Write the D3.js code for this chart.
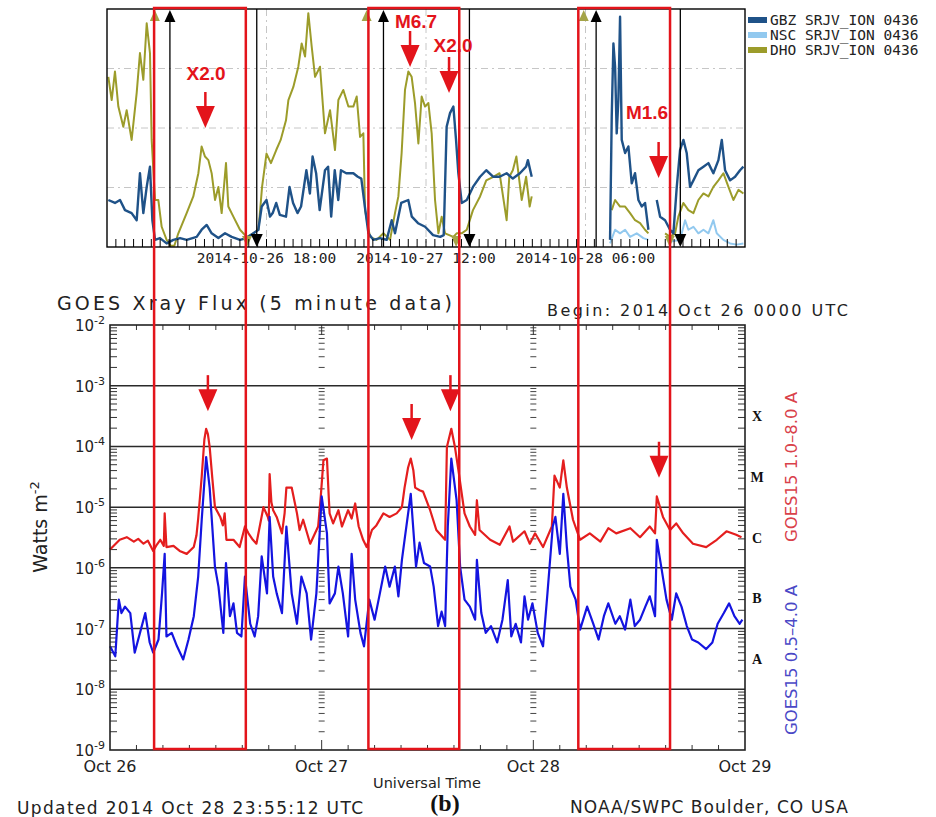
<!DOCTYPE html>
<html>
<head>
<meta charset="utf-8">
<script src="https://cdn.jsdelivr.net/npm/d3@7"></script>
<style>
	body { margin: 0; background: #fff; }
	svg { display: block; }
</style>
</head>
<body>
<div id="vis-container"></div>
<script>

// GOES 15 xray flux, [hours since 2014-10-26 00:00 UTC, W m^-2]
var goesLong = [[0,2.0e-6],[1.1,2.9e-6],[1.9,3.2e-6],[2.7,2.7e-6],[3.2,3.0e-6],[3.8,2.5e-6],[4.3,2.8e-6],[4.9,1.9e-6],[5.3,2.4e-6],[5.7,2.9e-6],[6.1,2.3e-6],[6.2,7.9e-6],[6.4,2.2e-6],[7.2,2.3e-6],[7.9,1.9e-6],[8.7,1.7e-6],[9.5,2.2e-6],[9.8,3.4e-6],[10.0,6.5e-6],[10.4,3.2e-5],[10.7,1.3e-4],[10.9,1.95e-4],[11.1,1.6e-4],[11.3,9.8e-5],[11.6,3.0e-5],[11.9,1.0e-5],[12.5,6.9e-6],[12.8,5.0e-6],[13.0,7.9e-6],[13.2,2.9e-6],[14.0,2.9e-6],[14.7,2.2e-6],[15.3,4.8e-6],[15.7,3.7e-6],[16.2,2.9e-6],[16.6,2.5e-6],[17.4,1.0e-5],[17.9,6.9e-6],[18.0,6.0e-6],[18.1,3.5e-5],[18.3,1.2e-5],[18.5,8.9e-6],[18.9,6.9e-6],[19.5,3.7e-6],[19.8,8.0e-6],[20.0,2.1e-5],[20.6,2.1e-5],[21.2,7.9e-6],[21.5,4.2e-6],[21.9,6.2e-6],[22.7,2.5e-6],[23.6,4.8e-6],[23.9,1.5e-5],[24.2,5.9e-5],[24.6,6.3e-5],[24.8,1.5e-5],[24.9,7.9e-6],[25.3,5.4e-6],[25.9,8.9e-6],[26.3,4.8e-6],[27.0,8.9e-6],[27.4,6.5e-6],[27.8,1.15e-5],[28.2,4.8e-6],[28.7,2.9e-6],[29.1,2.2e-6],[29.7,4.2e-6],[30.2,5.0e-6],[31.0,7.9e-6],[31.7,6.9e-6],[32.5,7.9e-6],[33.1,1.0e-5],[33.4,2.1e-5],[33.8,4.5e-5],[34.1,6.3e-5],[34.4,4.0e-5],[34.6,2.1e-5],[35.1,1.9e-5],[35.5,1.8e-5],[36.3,8.9e-6],[37.0,4.2e-6],[38.0,2.9e-6],[38.2,9.8e-5],[38.7,1.95e-4],[39.1,1.0e-4],[39.5,4.1e-5],[40.2,7.9e-6],[40.8,4.8e-6],[41.4,3.5e-6],[41.6,1.3e-5],[41.9,4.2e-6],[43.1,2.9e-6],[44.2,2.4e-6],[45.3,4.8e-6],[45.7,2.7e-6],[47.0,4.0e-6],[47.6,2.5e-6],[48.2,3.7e-6],[49.1,2.2e-6],[50.1,4.8e-6],[50.4,3.3e-5],[51.0,2.1e-5],[51.4,5.9e-5],[51.8,2.1e-5],[52.5,6.2e-6],[53.3,2.9e-6],[54.4,3.7e-6],[55.6,2.7e-6],[56.5,4.5e-6],[57.4,3.7e-6],[59.0,4.5e-6],[60.1,3.2e-6],[61.2,4.8e-6],[61.8,3.7e-6],[62.0,1.5e-5],[62.7,6.9e-6],[63.5,4.2e-6],[64.2,5.4e-6],[65.0,3.7e-6],[66.1,2.5e-6],[67.6,2.2e-6],[68.8,2.9e-6],[69.9,4.0e-6],[71.0,3.5e-6],[71.6,3.2e-6]];

var goesShort = [[0,5.1e-8],[0.6,3.5e-8],[1.0,3.0e-7],[1.3,1.8e-7],[1.7,2.3e-7],[2.3,1.8e-7],[2.8,4.0e-8],[3.4,8.5e-8],[4.0,1.8e-7],[4.5,5.9e-8],[4.9,4.0e-8],[5.5,6.6e-8],[5.9,3.8e-7],[6.2,1.7e-6],[6.4,7.4e-8],[7.0,8.5e-8],[7.6,5.1e-8],[8.3,3.1e-8],[8.9,6.6e-8],[9.5,1.6e-7],[10.0,7.2e-7],[10.4,6.2e-6],[10.9,6.7e-5],[11.3,2.1e-5],[11.9,1.05e-6],[12.3,4.9e-7],[12.85,8.5e-8],[13.15,1.2e-6],[13.6,1.6e-7],[14.0,2.6e-7],[14.4,8.5e-8],[14.9,7.4e-8],[15.3,7.2e-7],[15.9,1.2e-7],[16.4,7.4e-8],[16.8,1.6e-7],[17.2,1.55e-6],[17.8,3.8e-7],[18.1,6.9e-6],[18.5,7.2e-7],[18.9,3.8e-7],[19.5,1.8e-7],[20.0,4.8e-6],[20.6,3.8e-7],[21.2,1.2e-7],[21.7,7.2e-7],[22.3,3.8e-7],[22.8,6.6e-8],[23.4,3.8e-7],[24.0,1.5e-5],[24.6,3.7e-6],[24.9,2.6e-7],[25.5,3.8e-7],[25.9,1.05e-6],[26.4,3.8e-7],[27.0,7.4e-8],[27.4,1.7e-6],[27.8,3.0e-7],[28.4,8.5e-8],[28.8,5.1e-8],[29.4,3.0e-7],[30.0,1.4e-7],[30.6,3.8e-7],[31.2,1.05e-6],[31.7,4.9e-7],[32.3,1.05e-6],[32.7,3.4e-7],[33.1,1.35e-6],[33.4,2.9e-6],[34.1,1.65e-5],[34.7,1.05e-6],[35.1,2.6e-6],[35.6,1.2e-6],[36.3,1.05e-6],[36.7,4.9e-7],[37.2,1.1e-7],[37.6,1.9e-7],[38.0,1.1e-7],[38.3,4.8e-6],[38.7,6.3e-5],[39.3,1.3e-5],[39.7,1.05e-6],[40.2,3.0e-7],[40.8,2.3e-7],[41.4,1.4e-7],[41.6,1.35e-6],[42.1,1.8e-7],[42.6,8.5e-8],[43.2,1.1e-7],[43.9,5.9e-8],[44.5,1.4e-7],[45.1,6.3e-7],[45.5,7.4e-8],[46.0,1.2e-7],[46.6,5.9e-8],[47.0,3.4e-7],[47.4,1.4e-7],[47.9,2.6e-7],[48.5,8.5e-8],[49.1,5.1e-8],[49.6,3.8e-7],[50.2,4.8e-6],[50.5,6.9e-6],[51.0,1.7e-6],[51.4,1.65e-5],[51.8,2.2e-6],[52.2,4.9e-7],[52.8,3.0e-7],[53.3,9.6e-8],[54.1,2.3e-7],[54.8,1.2e-7],[55.4,6.6e-8],[56.0,1.6e-7],[56.5,2.6e-7],[57.3,1.2e-7],[57.8,1.6e-7],[58.4,9.6e-8],[59.0,3.0e-7],[59.5,1.1e-7],[60.1,1.4e-7],[60.7,2.3e-7],[61.2,3.4e-7],[61.8,1.6e-7],[62.0,2.9e-6],[62.5,1.05e-6],[63.1,3.0e-7],[63.7,1.4e-7],[64.2,3.8e-7],[64.8,2.3e-7],[65.4,1.1e-7],[66.0,6.6e-8],[66.7,5.9e-8],[67.6,4.6e-8],[68.3,5.9e-8],[68.9,1.2e-7],[69.6,1.8e-7],[70.2,2.6e-7],[70.8,1.6e-7],[71.4,1.2e-7],[71.7,1.4e-7]];

// VLF SRJV_ION 0436 amplitude (arbitrary units 0..4), null = no data
var gbz = [[0.15,0.79],[0.9,0.74],[1.47,0.79],[2.03,0.62],[2.78,0.57],[3.35,0.45],[3.72,1.24],[4.1,0.57],[4.48,1.01],[4.85,1.35],[5.12,0.45],[5.42,0.12],[5.98,0.15],[6.73,0.06],[7.49,0.12],[8.24,0.15],[8.99,0.12],[10.12,0.17],[10.68,0.29],[11.25,0.37],[11.81,0.23],[12.57,0.15],[13.32,0.23],[14.07,0.17],[15.01,0.12],[15.76,0.15],[16.52,0.23],[17.08,0.29],[17.46,0.68],[18.0,0.79],[18.4,0.51],[18.7,0.57],[19.1,0.74],[19.5,0.54],[20.2,0.51],[20.6,1.01],[21.0,0.74],[21.5,0.57],[21.9,0.68],[22.5,1.29],[22.9,0.9],[23.2,1.52],[23.6,1.24],[24.0,0.62],[24.6,1.29],[24.95,1.35],[25.3,0.51],[25.7,1.29],[26.1,0.79],[26.4,1.29],[27.0,1.24],[27.8,1.24],[28.3,1.18],[28.7,1.15],[29.1,0.68],[29.5,0.23],[30.06,0.12],[30.81,0.15],[31.56,0.12],[32.13,0.45],[32.5,0.23],[33.2,0.74],[34.0,0.79],[34.4,0.51],[35.1,0.4],[35.9,0.34],[36.8,0.2],[37.6,0.17],[38.0,0.2],[38.33,2.02],[38.71,2.25],[39.09,2.36],[39.39,1.8],[39.65,1.24],[40.03,0.74],[40.6,0.79],[41.3,1.01],[42.1,1.18],[42.8,1.29],[43.6,1.18],[44.3,1.18],[45.1,1.24],[45.8,1.15],[46.6,1.24],[47.3,1.35],[47.5,1.46],[47.93,1.18],[48.0,null],[56.77,0.12],[56.96,2.19],[57.15,3.42],[57.34,3.03],[57.52,1.91],[57.71,2.47],[57.9,3.87],[58.09,1.8],[58.47,1.58],[58.84,1.69],[59.22,1.07],[59.59,1.24],[59.97,0.79],[60.35,0.68],[60.72,0.74],[61.1,0.29],[61.5,null],[62.04,0.79],[62.42,0.51],[62.98,0.45],[63.54,0.29],[63.92,0.23],[64.3,1.01],[64.67,1.63],[65.05,1.8],[65.42,1.58],[65.8,1.01],[66.18,1.12],[66.74,1.29],[67.31,1.35],[67.87,1.41],[68.43,1.24],[69.0,1.46],[69.38,1.8],[69.75,1.29],[70.32,1.12],[70.88,1.18],[71.44,1.29],[71.82,1.35]];

var nsc = [[56.77,0.06],[57.34,0.29],[57.9,0.23],[58.47,0.29],[59.03,0.17],[59.78,0.23],[60.53,0.15],[61.1,0.12],[62.0,null],[63.54,0.09],[64.67,0.12],[65.24,0.45],[65.61,0.29],[66.18,0.34],[66.74,0.23],[67.31,0.29],[67.87,0.23],[68.43,0.45],[68.81,0.23],[69.56,0.12],[70.32,0.06],[71.07,0.04],[71.82,0.06]];

var dho = [[0.15,2.86],[0.53,2.47],[0.9,2.95],[1.28,2.36],[1.84,2.02],[2.22,2.3],[2.78,1.8],[3.35,2.59],[3.72,3.26],[4.1,2.81],[4.48,3.76],[4.85,3.26],[5.04,1.8],[5.42,0.79],[5.79,0.79],[6.17,0.34],[6.73,0.12],[7.2,0.02],[7.6,0.02],[8.05,0.23],[8.99,0.57],[9.74,0.85],[10.31,1.24],[10.68,1.69],[11.06,1.52],[11.44,1.46],[11.81,1.24],[12.19,0.79],[12.57,1.01],[12.94,0.57],[13.43,1.41],[13.69,0.68],[14.26,0.51],[15.01,0.29],[15.76,0.17],[16.52,0.23],[17.1,0.29],[17.5,1.01],[18.0,1.57],[18.5,1.41],[19.1,1.63],[19.6,1.8],[20.2,2.13],[20.47,2.47],[21.03,2.69],[21.59,3.03],[21.97,3.42],[22.35,3.2],[22.72,3.93],[23.1,3.37],[23.48,2.86],[24.04,3.03],[24.6,1.91],[25.17,2.3],[25.73,1.63],[26.11,2.47],[26.67,2.64],[27.24,2.36],[27.8,2.36],[28.18,2.53],[28.56,1.85],[28.93,1.91],[29.12,0.62],[29.68,0.17],[30.43,0.12],[31.19,0.23],[31.94,0.12],[32.5,0.57],[32.88,0.85],[33.25,1.58],[33.63,2.64],[34.01,2.95],[34.38,2.86],[34.76,2.42],[35.14,1.74],[35.51,2.53],[35.89,2.36],[36.27,2.42],[36.64,1.91],[37.02,0.79],[37.4,0.23],[37.77,0.51],[38.15,0.23],[39.09,0.17],[39.46,0.23],[40.03,0.23],[40.6,0.29],[41.3,0.62],[42.1,0.85],[42.8,1.12],[43.6,1.18],[44.3,1.24],[45.1,0.45],[45.4,1.18],[45.8,1.29],[46.2,1.52],[46.8,0.79],[47.3,1.18],[47.7,0.68],[47.93,0.85],[48.0,null],[56.96,0.62],[57.34,0.79],[57.9,0.68],[58.47,0.68],[59.03,0.57],[59.59,0.45],[60.16,0.4],[60.72,0.29],[61.1,0.23],[61.5,null],[62.98,0.23],[63.54,0.17],[64.11,0.23],[64.48,0.51],[65.05,0.74],[65.61,0.62],[66.18,0.57],[66.74,0.79],[67.31,0.9],[67.87,0.85],[68.43,1.01],[69.0,1.12],[69.56,1.24],[70.13,1.01],[70.69,0.79],[71.26,0.96],[71.82,0.9]];

var stationNames = ["GBZ SRJV_ION 0436", "NSC SRJV_ION 0436", "DHO SRJV_ION 0436"];

// terminator markers (hours)
var blackUp = [7.1, 31.2, 55.2];
var blackDown = [16.9, 40.9, 64.7];
var oliveUp = [5.4, 29.3, 53.8];
var oliveDown = [15.8, 39.4, 63.5];

var topTickHours = [18, 36, 54];
var topTickLabels = ["2014-10-26 18:00", "2014-10-27 12:00", "2014-10-28 06:00"];
var dayLabels = ["Oct 26", "Oct 27", "Oct 28", "Oct 29"];
var decades = [-2, -3, -4, -5, -6, -7, -8, -9];
var classLetters = ["X", "M", "C", "B", "A"];
var classFlux = [1e-4, 1e-5, 1e-6, 1e-7, 1e-8];

// flares and marked intervals
var flareNames = ["X2.0", "M6.7", "X2.0", "M1.6"];
var flareHours = [11.1, 34.2, 38.6, 62.25];
var flarePeaks = [2.0e-4, 6.7e-5, 2.0e-4, 1.6e-5];
var boxHours = [[5.0, 15.4], [29.3, 39.6], [53.1, 63.5]];

var width = 936;
var height = 817;
var red = "#e3141b";

var svg = d3.select("#vis-container")
	.append("svg")
	.attr("width", width)
	.attr("height", height)
	.style("background-color", "#ffffff");

// ---------------- top panel (VLF) ----------------
var xTop = d3.scaleLinear().domain([0, 72]).range([107, 745]);
var yTop = d3.scaleLinear().domain([0, 4]).range([247, 9]);
var tp = svg.append("g");

// dashed grid
tp.selectAll(".hgrid").data(yTop.ticks(4).filter(function(d) { return d > 0 && d < 4; }))
	.enter().append("line")
	.attr("x1", xTop(0)).attr("x2", xTop(72))
	.attr("y1", function(d) { return yTop(d); }).attr("y2", function(d) { return yTop(d); })
	.attr("stroke", "#c6c6c6").attr("stroke-dasharray", "7,4,2,4");
tp.selectAll(".vgrid").data(topTickHours)
	.enter().append("line")
	.attr("x1", function(d) { return xTop(d); }).attr("x2", function(d) { return xTop(d); })
	.attr("y1", yTop(4)).attr("y2", yTop(0))
	.attr("stroke", "#c6c6c6").attr("stroke-dasharray", "7,4,2,4");

var topLine = d3.line()
	.defined(function(d) { return d[1] != null; })
	.x(function(d) { return xTop(d[0]); })
	.y(function(d) { return yTop(d[1]); });

var stationColors = ["#1f5288", "#92c9ef", "#9c9c2a"];
var series = [gbz, nsc, dho];
[2, 1, 0].forEach(function(i) {
	tp.append("path")
		.attr("d", topLine(series[i]))
		.attr("fill", "none")
		.attr("stroke", stationColors[i])
		.attr("stroke-width", i == 0 ? 2.4 : 2)
		.attr("stroke-linejoin", "round");
});

// terminator lines and triangles
blackUp.forEach(function(h) {
	var x = xTop(h);
	tp.append("line").attr("x1", x).attr("x2", x).attr("y1", 247).attr("y2", 20).attr("stroke", "#000").attr("stroke-width", 1.3);
	tp.append("path").attr("d", "M" + (x - 5.5) + ",22L" + (x + 5.5) + ",22L" + x + ",10Z").attr("fill", "#000");
});
blackDown.forEach(function(h) {
	var x = xTop(h);
	tp.append("line").attr("x1", x).attr("x2", x).attr("y1", 9).attr("y2", 236).attr("stroke", "#000").attr("stroke-width", 1.3);
	tp.append("path").attr("d", "M" + (x - 6) + ",234L" + (x + 6) + ",234L" + x + ",247Z").attr("fill", "#000");
});
oliveUp.forEach(function(h) {
	var x = xTop(h);
	tp.append("path").attr("d", "M" + (x - 5) + ",21L" + (x + 5) + ",21L" + x + ",10Z").attr("fill", "#a4a448");
});
oliveDown.forEach(function(h) {
	var x = xTop(h);
	tp.append("path").attr("d", "M" + (x - 5) + ",236L" + (x + 5) + ",236L" + x + ",247Z").attr("fill", "#a4a448");
});

// hourly ticks
tp.selectAll(".htick").data(d3.range(1, 72))
	.enter().append("line")
	.attr("x1", function(d) { return xTop(d); }).attr("x2", function(d) { return xTop(d); })
	.attr("y1", 239).attr("y2", 247)
	.attr("stroke", "#000").attr("stroke-width", 1);

tp.append("rect")
	.attr("x", xTop(0)).attr("y", yTop(4))
	.attr("width", xTop(72) - xTop(0)).attr("height", yTop(0) - yTop(4))
	.attr("fill", "none").attr("stroke", "#000").attr("stroke-width", 1.4);

tp.selectAll(".tlabel").data(topTickHours)
	.enter().append("text")
	.attr("x", function(d) { return xTop(d); })
	.attr("y", 263)
	.attr("text-anchor", "middle")
	.style("font-family", "DejaVu Sans Mono, monospace")
	.style("font-size", "14.5px")
	.attr("fill", "#222")
	.text(function(d, i) { return topTickLabels[i]; });

// legend
stationNames.forEach(function(name, i) {
	tp.append("rect").attr("x", 748).attr("y", 17 + i * 15).attr("width", 19).attr("height", 6).attr("fill", stationColors[i]);
	tp.append("text").attr("x", 770).attr("y", 25 + i * 15)
		.style("font-family", "DejaVu Sans Mono, monospace").style("font-size", "14.5px")
		.attr("fill", "#222").text(name);
});

// ---------------- bottom panel (GOES) ----------------
var xBot = d3.scaleLinear().domain([0, 72]).range([110, 745]);
var yBot = d3.scaleLog().domain([1e-9, 1e-2]).range([750, 325]);
var bp = svg.append("g");

var minor = yBot.ticks().filter(function(d) {
	var m = Math.round(d / Math.pow(10, Math.floor(Math.log10(d) + 1e-9)));
	return m != 1;
});

// decade grid lines
bp.selectAll(".grid").data(decades.filter(function(e) { return e < -2 && e > -9; }))
	.enter().append("line")
	.attr("x1", xBot(0)).attr("x2", xBot(72))
	.attr("y1", function(e) { return yBot(Math.pow(10, e)); })
	.attr("y2", function(e) { return yBot(Math.pow(10, e)); })
	.attr("stroke", "#2a2a2a").attr("stroke-width", 1.5);

// minor ticks on left/right axes and on the day lines
bp.selectAll(".lt").data(minor).enter().append("line")
	.attr("x1", xBot(0)).attr("x2", xBot(0) + 7)
	.attr("y1", function(d) { return yBot(d); }).attr("y2", function(d) { return yBot(d); })
	.attr("stroke", "#333").attr("stroke-width", 1);
bp.selectAll(".rt").data(minor).enter().append("line")
	.attr("x1", xBot(72) - 7).attr("x2", xBot(72))
	.attr("y1", function(d) { return yBot(d); }).attr("y2", function(d) { return yBot(d); })
	.attr("stroke", "#333").attr("stroke-width", 1);
[24, 48].forEach(function(h) {
	bp.selectAll(".dt" + h).data(minor).enter().append("line")
		.attr("x1", xBot(h) - 3).attr("x2", xBot(h) + 3)
		.attr("y1", function(d) { return yBot(d); }).attr("y2", function(d) { return yBot(d); })
		.attr("stroke", "#444").attr("stroke-width", 1);
});

// time ticks every 3 hours
bp.selectAll(".bt").data(d3.range(3, 72, 3)).enter().append("line")
	.attr("x1", function(d) { return xBot(d); }).attr("x2", function(d) { return xBot(d); })
	.attr("y1", 750).attr("y2", function(d) { return d % 24 == 0 ? 740 : 745; })
	.attr("stroke", "#333").attr("stroke-width", 1);
bp.selectAll(".tt").data(d3.range(3, 72, 3)).enter().append("line")
	.attr("x1", function(d) { return xBot(d); }).attr("x2", function(d) { return xBot(d); })
	.attr("y1", 325).attr("y2", function(d) { return d % 24 == 0 ? 335 : 330; })
	.attr("stroke", "#333").attr("stroke-width", 1);

var botLine = d3.line()
	.x(function(d) { return xBot(d[0]); })
	.y(function(d) { return yBot(d[1]); });

bp.append("path").attr("d", botLine(goesLong))
	.attr("fill", "none").attr("stroke", "#e41e1e").attr("stroke-width", 2.2).attr("stroke-linejoin", "round");
bp.append("path").attr("d", botLine(goesShort))
	.attr("fill", "none").attr("stroke", "#1414e0").attr("stroke-width", 2.2).attr("stroke-linejoin", "round");

bp.append("rect")
	.attr("x", xBot(0)).attr("y", yBot(1e-2))
	.attr("width", xBot(72) - xBot(0)).attr("height", yBot(1e-9) - yBot(1e-2))
	.attr("fill", "none").attr("stroke", "#222").attr("stroke-width", 1.6);

// y labels 10^-n
var ylab = bp.selectAll(".ylab").data(decades).enter().append("text")
	.attr("x", 105)
	.attr("y", function(e) { return yBot(Math.pow(10, e)) + 6; })
	.attr("text-anchor", "end")
	.style("font-family", "DejaVu Sans, sans-serif")
	.style("font-size", "15px")
	.attr("fill", "#222");
ylab.append("tspan").text("10");
ylab.append("tspan").attr("dy", -7).style("font-size", "11px").text(function(e) { return "-" + (-e); });

bp.append("text")
	.attr("transform", "translate(47,527) rotate(-90)")
	.attr("text-anchor", "middle")
	.style("font-family", "DejaVu Sans, sans-serif")
	.style("font-size", "19px")
	.attr("fill", "#222")
	.call(function(t) {
		t.append("tspan").text("Watts m");
		t.append("tspan").attr("dy", -8).style("font-size", "13px").text("-2");
	});

// day labels
bp.selectAll(".day").data(dayLabels).enter().append("text")
	.attr("x", function(d, i) { return xBot(i * 24); })
	.attr("y", 772)
	.attr("text-anchor", "middle")
	.style("font-family", "DejaVu Sans, sans-serif")
	.style("font-size", "16px")
	.attr("fill", "#222")
	.text(function(d) { return d; });

bp.append("text").attr("x", 427).attr("y", 788).attr("text-anchor", "middle")
	.style("font-family", "DejaVu Sans, sans-serif").style("font-size", "14.5px").attr("fill", "#222")
	.text("Universal Time");

bp.append("text").attr("x", 57).attr("y", 310)
	.attr("textLength", 395).attr("lengthAdjust", "spacing")
	.style("font-family", "DejaVu Sans, sans-serif").style("font-size", "19px").attr("fill", "#222")
	.text("GOES Xray Flux (5 minute data)");
bp.append("text").attr("x", 547).attr("y", 316)
	.attr("textLength", 301).attr("lengthAdjust", "spacing")
	.style("font-family", "DejaVu Sans, sans-serif").style("font-size", "16px").attr("fill", "#222")
	.text("Begin:  2014 Oct 26 0000 UTC");
bp.append("text").attr("x", 17).attr("y", 814)
	.attr("textLength", 346).attr("lengthAdjust", "spacing")
	.style("font-family", "DejaVu Sans, sans-serif").style("font-size", "17px").attr("fill", "#222")
	.text("Updated 2014 Oct 28 23:55:12 UTC");
bp.append("text").attr("x", 570).attr("y", 813)
	.attr("textLength", 278).attr("lengthAdjust", "spacing")
	.style("font-family", "DejaVu Sans, sans-serif").style("font-size", "17px").attr("fill", "#222")
	.text("NOAA/SWPC Boulder, CO USA");
bp.append("text").attr("x", 445).attr("y", 811).attr("text-anchor", "middle")
	.style("font-family", "Liberation Serif, serif").style("font-size", "24px").style("font-weight", "bold").attr("fill", "#111")
	.text("(b)");

// flare class letters
bp.selectAll(".cls").data(classLetters).enter().append("text")
	.attr("x", 757)
	.attr("y", function(d, i) { return yBot(classFlux[i] * Math.sqrt(10)) + 5; })
	.attr("text-anchor", "middle")
	.style("font-family", "Liberation Serif, serif").style("font-size", "14px").style("font-weight", "bold")
	.attr("fill", "#111")
	.text(function(d) { return d; });

bp.append("text").attr("transform", "translate(797,467) rotate(-90)").attr("text-anchor", "middle")
	.style("font-family", "DejaVu Sans, sans-serif").style("font-size", "16.5px").attr("fill", "#d9414a")
	.text("GOES15 1.0\u20138.0 A");
bp.append("text").attr("transform", "translate(797,660) rotate(-90)").attr("text-anchor", "middle")
	.style("font-family", "DejaVu Sans, sans-serif").style("font-size", "16.5px").attr("fill", "#4a48c6")
	.text("GOES15 0.5\u20134.0 A");

// ---------------- annotations ----------------
var ann = svg.append("g");
function arrow(x, tip) {
	ann.append("line").attr("x1", x).attr("x2", x).attr("y1", tip - 36).attr("y2", tip - 20)
		.attr("stroke", red).attr("stroke-width", 2.5);
	ann.append("path").attr("d", "M" + (x - 9.5) + "," + (tip - 22) + "L" + (x + 9.5) + "," + (tip - 22) + "L" + x + "," + tip + "Z")
		.attr("fill", red);
}
var topArrowTip = [128, 67, 93, 178];
var topLabelPos = [[206, 80], [416, 28], [453, 52], [647, 119]];
flareHours.forEach(function(h, i) {
	arrow(xTop(h), topArrowTip[i]);
	arrow(xBot(h), yBot(flarePeaks[i]) - 17);
	ann.append("text").attr("x", topLabelPos[i][0]).attr("y", topLabelPos[i][1]).attr("text-anchor", "middle")
		.style("font-family", "Liberation Sans, Arial, sans-serif").style("font-size", "19px").style("font-weight", "bold")
		.attr("fill", red).text(flareNames[i]);
});

// marked intervals spanning both panels
ann.selectAll(".box").data(boxHours).enter().append("rect")
	.attr("x", function(d) { return xBot(d[0]); })
	.attr("y", 8)
	.attr("width", function(d) { return xBot(d[1]) - xBot(d[0]); })
	.attr("height", 741)
	.attr("fill", "none")
	.attr("stroke", red)
	.attr("stroke-width", 2.5);

</script>
</body>
</html>
